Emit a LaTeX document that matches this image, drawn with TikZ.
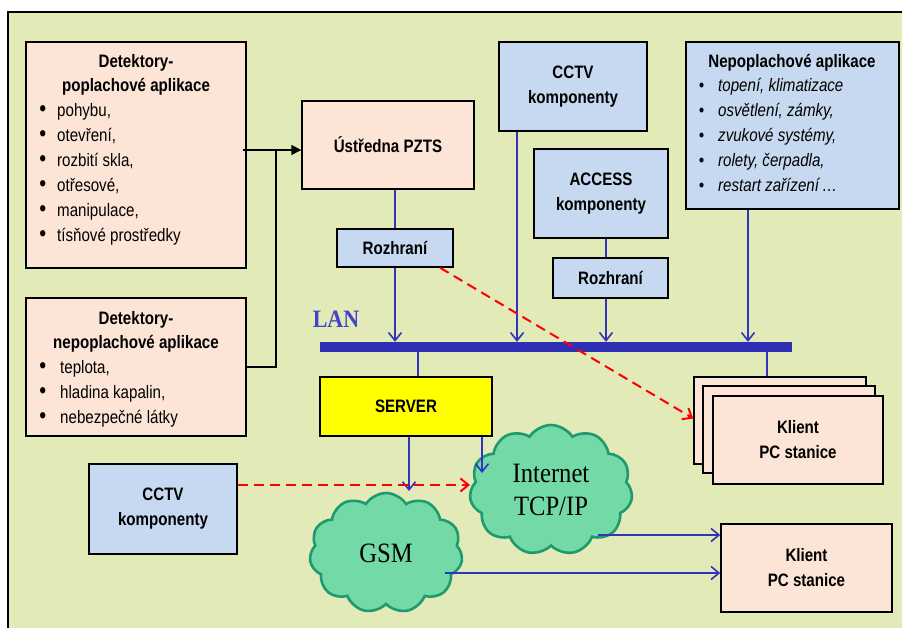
\documentclass[tikz,border=0pt]{standalone}
\usepackage{fontspec}
\setmainfont{Liberation Serif}[FakeStretch=0.88]
\setsansfont{Liberation Sans}[FakeStretch=0.84]
\usetikzlibrary{arrows.meta,shapes.symbols}

\definecolor{bgc}{HTML}{E2EAB8}
\definecolor{salmonc}{HTML}{FCE5D6}
\definecolor{boxblue}{HTML}{C6D9F0}
\definecolor{lineblue}{HTML}{3333BB}
\definecolor{lanblue}{HTML}{2F2FB5}
\definecolor{lantext}{HTML}{4343C8}
\definecolor{cloudfill}{HTML}{73D9A7}
\definecolor{cloudline}{HTML}{1F9A70}
\definecolor{servery}{HTML}{FFFF00}

\newcommand{\bigbul}{\scalebox{1.3}{\textbullet}}

\begin{document}
\begin{tikzpicture}[x=1pt,y=-1pt,
  box/.style={draw=black, line width=1.4pt, inner sep=0pt,
    font=\sffamily\bfseries\fontsize{18}{25}\selectfont, align=center},
  salm/.style={box, fill=salmonc},
  blu/.style={box, fill=boxblue},
  ttl/.style={inner sep=0pt, anchor=base, font=\sffamily\bfseries\fontsize{18}{25}\selectfont},
  itm/.style={inner sep=0pt, anchor=base west, font=\sffamily\fontsize{18}{25}\selectfont},
  itmi/.style={itm, font=\sffamily\itshape\fontsize{18}{25}\selectfont},
  netcloud/.style={cloud, cloud puffs=11, cloud puff arc=115, draw=cloudline,
    line width=2.6pt, fill=cloudfill, inner sep=0pt, align=center,
    font=\rmfamily\fontsize{28}{33}\selectfont},
  bl/.style={draw=lineblue, line width=1.6pt},
  blarr/.style={bl, -{Straight Barb[length=8pt,width=13pt,line width=1.6pt]}},
  reddash/.style={draw=red, line width=2pt, dash pattern=on 10pt off 6pt,
    -{Straight Barb[length=8pt,width=13pt,line width=2pt]}},
  blkarr/.style={draw=black, line width=1.4pt, -{Triangle[length=10pt,width=10pt]}}
]
\useasboundingbox (0,0) rectangle (902,628);
\fill[white] (0,0) rectangle (902,628);
\fill[bgc] (8,12) rectangle (902,628);
\draw[line width=1.5pt] (8,628) -- (8,12) -- (902,12);

% alarm detectors
\node[salm, minimum width=220, minimum height=226] (det1) at (136,155) {};
\node[ttl] (d1t1) at (136,68) {Detektory-};
\node[ttl] (d1t2) at (136,92) {poplachové aplikace};
\foreach \t [count=\i] in {{pohybu,},{otevření,},{rozbití skla,},{otřesové,},{manipulace,},{tísňové prostředky}}
  \node[itm] (d1i\i) at (57,92+25*\i) {\llap{\bigbul\hspace{11pt}}\t};

% non-alarm detectors
\node[salm, minimum width=220, minimum height=138] (det2) at (136,367) {};
\node[ttl] (d2t1) at (136,324) {Detektory-};
\node[ttl] (d2t2) at (136,348) {nepoplachové aplikace};
\foreach \t [count=\i] in {{teplota,},{hladina kapalin,},{nebezpečné látky}}
  \node[itm] (d2i\i) at (60,348+25*\i) {\llap{\bigbul\hspace{14pt}}\t};

% control panel and interfaces
\node[salm, minimum width=172, minimum height=88] (ustr) at (388,145) {Ústředna PZTS};
\node[blu, minimum width=116, minimum height=38] (roz1) at (395,248) {Rozhraní};
\node[blu, minimum width=148, minimum height=89] (cctv1) at (573,86.5) {CCTV\\komponenty};
\node[blu, minimum width=134, minimum height=89] (access) at (601,193.5) {ACCESS\\komponenty};
\node[blu, minimum width=115, minimum height=40] (roz2) at (610.5,278) {Rozhraní};

% other applications
\node[blu, minimum width=213, minimum height=167] (nepo) at (792.5,125.5) {};
\node[ttl] (npt) at (792,68) {Nepoplachové aplikace};
\foreach \t [count=\i] in {{topení, klimatizace},{osvětlení, zámky,},{zvukové systémy,},{rolety, čerpadla,},{restart zařízení\,…}}
  \node[itmi] (npi\i) at (718,67+25*\i) {\llap{\textbullet\hspace{14pt}}\t};

% LAN
\node[fill=lanblue, inner sep=0pt, minimum width=472, minimum height=10] (lan) at (556,347) {};
\node[inner sep=0pt, anchor=base, text=lantext, font=\rmfamily\bfseries\fontsize{25}{25}\selectfont] (lantxt) at (336,327) {LAN};

% server and clients
\node[box, fill=servery, minimum width=172, minimum height=59] (server) at (406,406.5) {SERVER};
\node[salm, minimum width=172, minimum height=87] (klb) at (780,420.5) {};
\node[salm, minimum width=172, minimum height=87] (klm) at (789,429.5) {};
\node[salm, minimum width=170, minimum height=88] (klf) at (798,440) {Klient\\PC stanice};
\node[salm, minimum width=171, minimum height=88] (kl2) at (806.5,568) {Klient\\PC stanice};
\node[blu, minimum width=148, minimum height=90] (cctv2) at (163,509) {CCTV\\komponenty};

% networks
\node[netcloud, minimum width=153, minimum height=120, aspect=1.27] (gsm) at (386,553) {GSM};
\node[netcloud, minimum width=163, minimum height=130, aspect=1.25] (inet) at (551,490) {Internet\\TCP/IP};

% detector wiring to the control panel
\coordinate (junc) at (276,150);
\draw[line width=1.4pt] (det2.east) -- (junc |- det2.east) -- (junc);
\draw[blkarr] ([xshift=-4pt]det1.east |- junc) -- (ustr.west |- junc);

% links to the LAN
\draw[bl] (roz1.north |- ustr.south) -- (roz1.north);
\draw[blarr] (roz1.south) -- (roz1.south |- lan.north);
\draw[blarr] ([xshift=-56pt]cctv1.south) -- ([xshift=-56pt]cctv1.south |- lan.north);
\draw[bl] ([xshift=5pt]access.south) -- ([xshift=5pt]access.south |- roz2.north);
\draw[blarr] ([xshift=-4.5pt]roz2.south) -- ([xshift=-4.5pt]roz2.south |- lan.north);
\draw[blarr] ([xshift=-44.5pt]nepo.south) -- ([xshift=-44.5pt]nepo.south |- lan.north);
\draw[bl] ([xshift=12pt]server.north |- lan.south) -- ([xshift=12pt]server.north);
\draw[bl] ([xshift=-13pt]klb.north |- lan.south) -- ([xshift=-13pt]klb.north);

% server to the networks
\coordinate (gsmin) at (409,491);
\coordinate (inetin) at (482,473);
\draw[blarr] (server.south -| gsmin) -- (gsmin);
\draw[blarr] (server.south -| inetin) -- (inetin);

% networks to the remote client
\draw[blarr] ([xshift=47pt,yshift=-45pt]inet.center) -- ([yshift=33pt]kl2.west);
\draw[blarr] ([xshift=59pt,yshift=-20pt]gsm.center) -- ([yshift=-5pt]kl2.west);

% video paths
\coordinate (inetleft) at (470,485);
\draw[reddash] ([xshift=45pt]roz1.south) -- ([yshift=2pt]klb.west);
\draw[reddash] ([yshift=24pt]cctv2.east) -- (inetleft);
\end{tikzpicture}
\end{document}
